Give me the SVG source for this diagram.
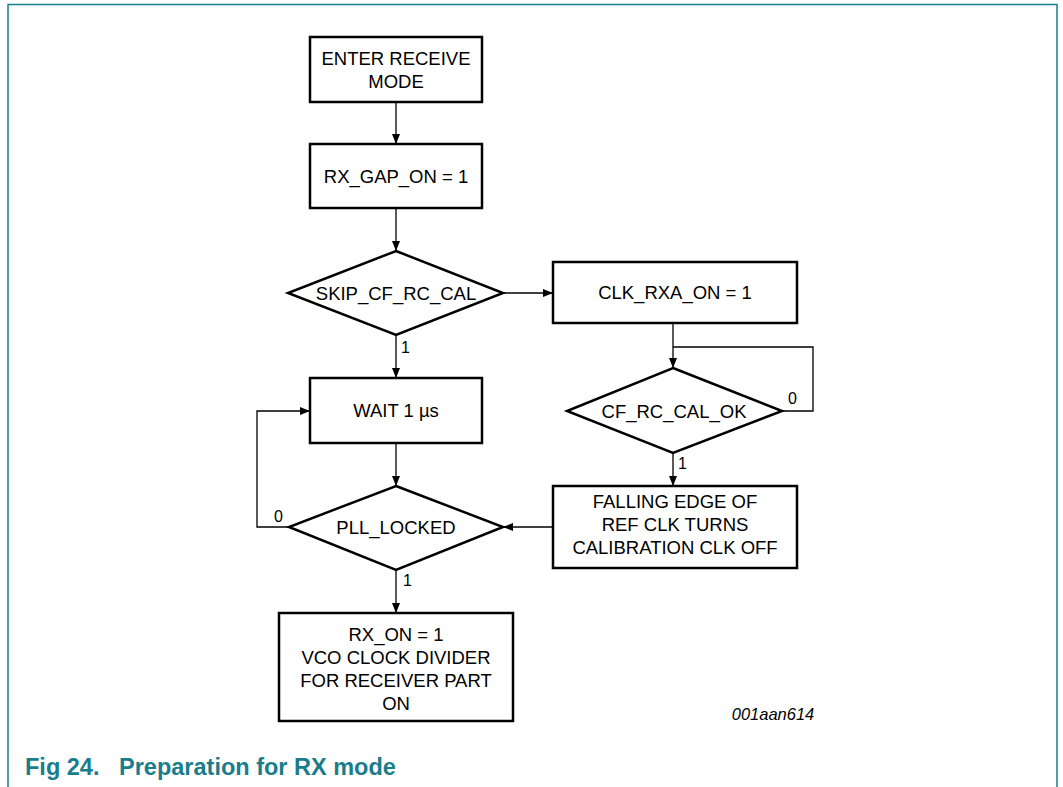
<svg xmlns="http://www.w3.org/2000/svg" width="1063" height="787" viewBox="0 0 1063 787">
<style>
.box{fill:#fff;stroke:#000;stroke-width:2.5}
.t{font-family:"Liberation Sans",Arial,sans-serif;font-size:18.5px;fill:#000;text-anchor:middle}
.lbl{font-family:"Liberation Sans",Arial,sans-serif;font-size:16px;fill:#000}
.c{fill:none;stroke:#000;stroke-width:1.3}
.frame{fill:none;stroke:#1a7d8c;stroke-width:1.5}
</style>
<defs>
<marker id="ah" markerWidth="10" markerHeight="8" refX="9" refY="4" orient="auto" markerUnits="userSpaceOnUse">
<path d="M0,0 L10,4 L0,8 Z" fill="#000"/>
</marker>
</defs>
<rect width="1063" height="787" fill="#fff"/>
<path class="frame" d="M8,787 V4.5 H1057 V787"/>

<g id="connectors">
<line class="c" x1="396" y1="102" x2="396" y2="143" marker-end="url(#ah)"/>
<line class="c" x1="396" y1="208" x2="396" y2="250" marker-end="url(#ah)"/>
<line class="c" x1="503" y1="293" x2="552" y2="293" marker-end="url(#ah)"/>
<line class="c" x1="396" y1="335" x2="396" y2="377" marker-end="url(#ah)"/>
<line class="c" x1="673" y1="323" x2="673" y2="367" marker-end="url(#ah)"/>
<polyline class="c" points="782,411 813,411 813,347 673,347"/>
<line class="c" x1="673" y1="453" x2="673" y2="485" marker-end="url(#ah)"/>
<line class="c" x1="396" y1="443" x2="396" y2="485" marker-end="url(#ah)"/>
<line class="c" x1="553" y1="527" x2="504" y2="527" marker-end="url(#ah)"/>
<polyline class="c" points="289,527 257,527 257,411 309,411" marker-end="url(#ah)"/>
<line class="c" x1="396" y1="570" x2="396" y2="612" marker-end="url(#ah)"/>
<text class="lbl" x="401" y="353">1</text>
<text class="lbl" x="678" y="469">1</text>
<text class="lbl" x="788" y="404">0</text>
<text class="lbl" x="274" y="522">0</text>
<text class="lbl" x="403" y="586">1</text>
</g>

<g id="enter">
<rect class="box" x="310" y="37" width="172" height="65"/>
<text class="t" x="396" y="65">ENTER RECEIVE</text>
<text class="t" x="396" y="88">MODE</text>
</g>
<g id="rxgap">
<rect class="box" x="310" y="144" width="172" height="64"/>
<text class="t" x="396" y="183">RX_GAP_ON = 1</text>
</g>
<g id="skip">
<polygon class="box" points="396,251 503,293 396,335 288,293"/>
<text class="t" x="396" y="300">SKIP_CF_RC_CAL</text>
</g>
<g id="clkrxa">
<rect class="box" x="553" y="262" width="244" height="61"/>
<text class="t" x="675" y="299">CLK_RXA_ON = 1</text>
</g>
<g id="cfrc">
<polygon class="box" points="673,368 782,411 673,453 567,411"/>
<text class="t" x="674" y="418">CF_RC_CAL_OK</text>
</g>
<g id="falling">
<rect class="box" x="553" y="486" width="244" height="82"/>
<text class="t" x="675" y="508">FALLING EDGE OF</text>
<text class="t" x="675" y="531">REF CLK TURNS</text>
<text class="t" x="675" y="554">CALIBRATION CLK OFF</text>
</g>
<g id="wait">
<rect class="box" x="310" y="378" width="172" height="65"/>
<text class="t" x="396" y="417">WAIT 1 µs</text>
</g>
<g id="pll">
<polygon class="box" points="396,486 503,527 396,570 289,527"/>
<text class="t" x="396" y="534">PLL_LOCKED</text>
</g>
<g id="rxon">
<rect class="box" x="279" y="613" width="234" height="108"/>
<text class="t" x="396" y="641">RX_ON = 1</text>
<text class="t" x="396" y="664">VCO CLOCK DIVIDER</text>
<text class="t" x="396" y="687">FOR RECEIVER PART</text>
<text class="t" x="396" y="710">ON</text>
</g>
<text x="773" y="720" font-family="Liberation Sans,Arial,sans-serif" font-size="16.5" font-style="italic" text-anchor="middle">001aan614</text>
<text x="25" y="775" font-family="Liberation Sans,Arial,sans-serif" font-size="23.5" font-weight="bold" fill="#1a7d8c" xml:space="preserve">Fig 24.   Preparation for RX mode</text>
</svg>
